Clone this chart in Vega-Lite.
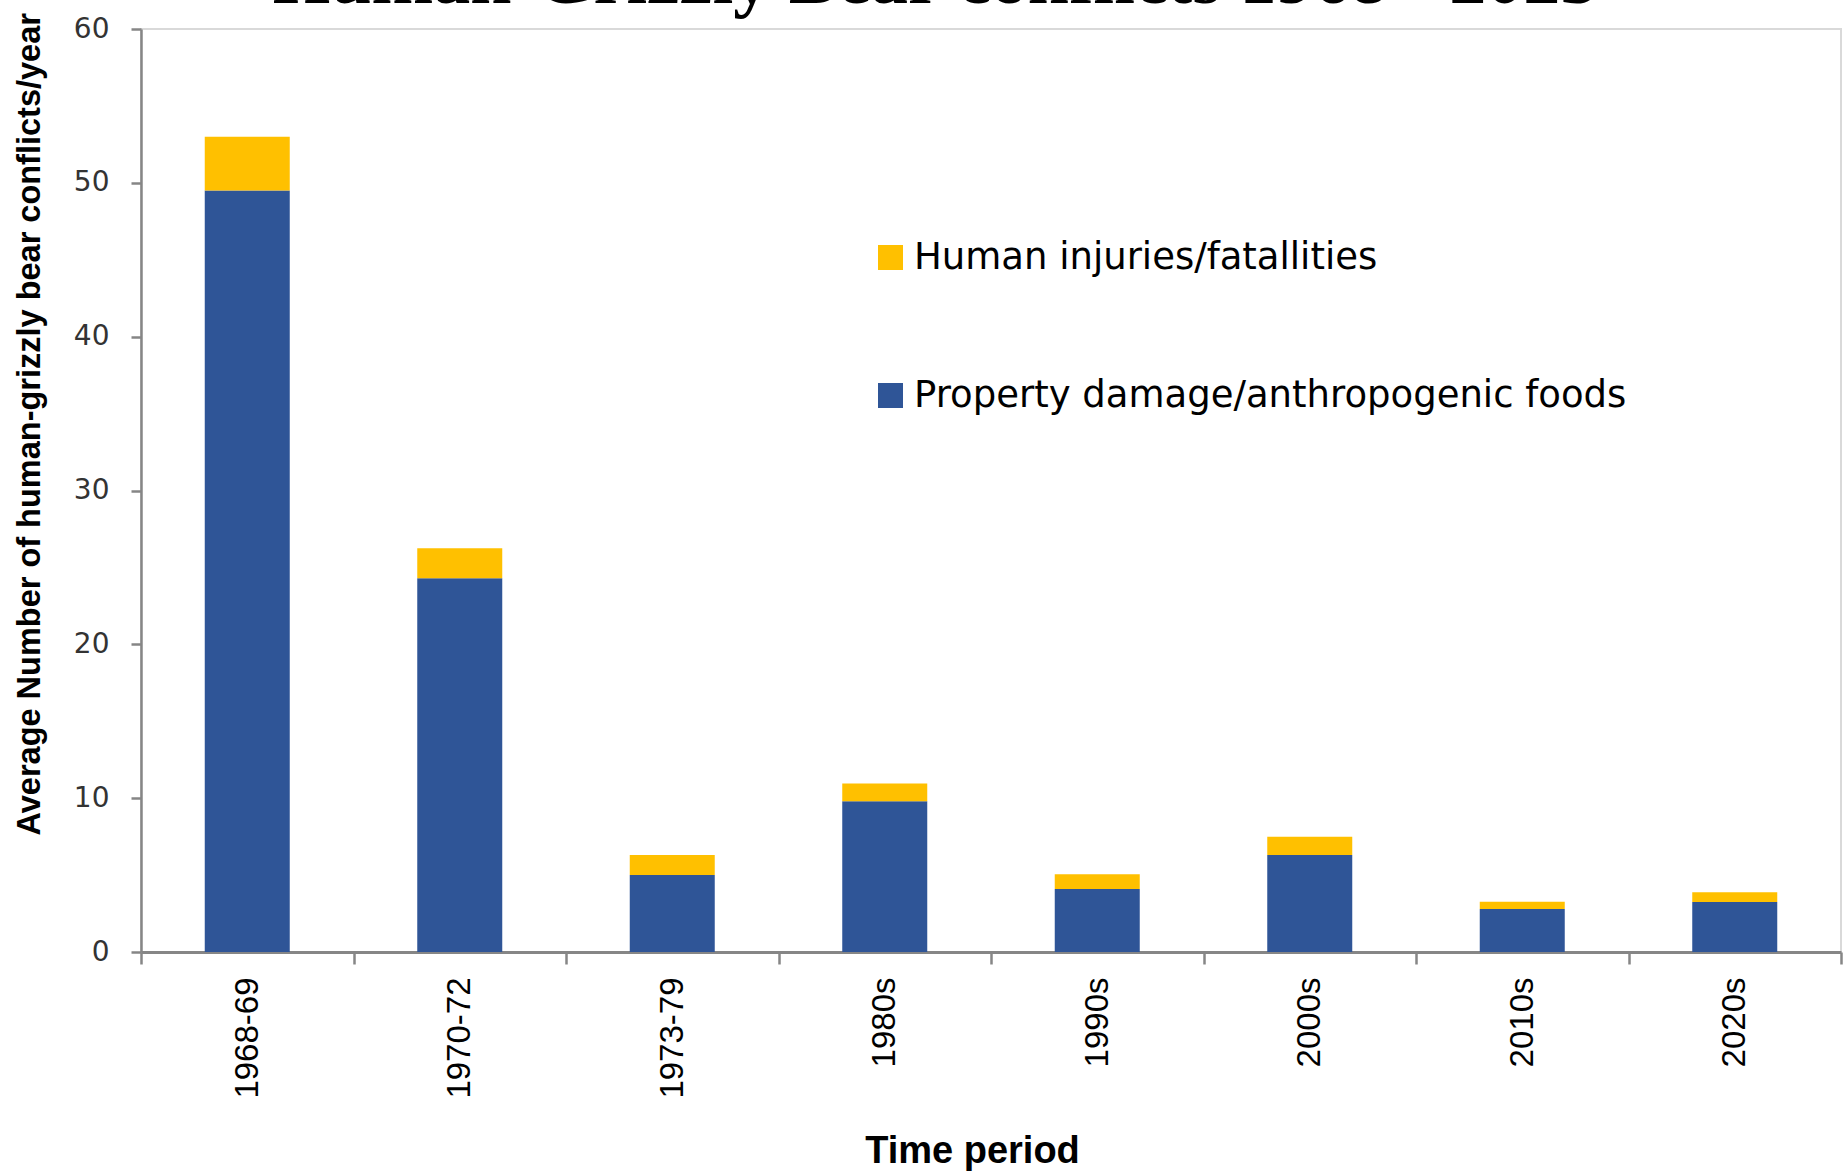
{
  "$schema": "https://vega.github.io/schema/vega-lite/v6.json",
  "autosize": {"type": "none"},
  "padding": {"left": 141, "top": 29, "right": 4, "bottom": 222},
  "width": 1700,
  "height": 923,
  "background": "white",
  "title": {
    "text": "Human-Grizzly Bear conflicts 1968 - 2023",
    "font": "Liberation Serif",
    "fontSize": 74,
    "fontWeight": "bold",
    "color": "black",
    "anchor": "middle",
    "frame": "group",
    "baseline": "alphabetic",
    "offset": -73,
    "dx": -56
  },
  "data": {
    "values": [
      {"period": "1968-69", "type": "Property damage/anthropogenic foods", "value": 49.5},
      {"period": "1968-69", "type": "Human injuries/fatallities", "value": 3.5},
      {"period": "1970-72", "type": "Property damage/anthropogenic foods", "value": 24.3},
      {"period": "1970-72", "type": "Human injuries/fatallities", "value": 1.95},
      {"period": "1973-79", "type": "Property damage/anthropogenic foods", "value": 5.0},
      {"period": "1973-79", "type": "Human injuries/fatallities", "value": 1.3},
      {"period": "1980s", "type": "Property damage/anthropogenic foods", "value": 9.8},
      {"period": "1980s", "type": "Human injuries/fatallities", "value": 1.15},
      {"period": "1990s", "type": "Property damage/anthropogenic foods", "value": 4.1},
      {"period": "1990s", "type": "Human injuries/fatallities", "value": 0.95},
      {"period": "2000s", "type": "Property damage/anthropogenic foods", "value": 6.3},
      {"period": "2000s", "type": "Human injuries/fatallities", "value": 1.2},
      {"period": "2010s", "type": "Property damage/anthropogenic foods", "value": 2.8},
      {"period": "2010s", "type": "Human injuries/fatallities", "value": 0.47},
      {"period": "2020s", "type": "Property damage/anthropogenic foods", "value": 3.25},
      {"period": "2020s", "type": "Human injuries/fatallities", "value": 0.63}
    ]
  },
  "mark": {"type": "bar", "width": {"band": 0.4}},
  "encoding": {
    "x": {
      "field": "period",
      "type": "nominal",
      "sort": null,
      "scale": {"paddingInner": 0, "paddingOuter": 0},
      "axis": {
        "title": "Time period",
        "titleFont": "Liberation Sans",
        "titleFontSize": 38,
        "titleFontWeight": "bold",
        "titleColor": "black",
        "titleX": 831,
        "titleY": 199,
        "titleAlign": "center",
        "titleBaseline": "middle",
        "labelFont": "Liberation Sans",
        "labelFontSize": 33,
        "labelColor": "black",
        "labelAngle": -90,
        "labelPadding": 13,
        "labelLimit": 0,
        "tickBand": "extent",
        "tickColor": "#868686",
        "tickWidth": 2.5,
        "tickSize": 12,
        "domainColor": "#868686",
        "domainWidth": 3,
        "grid": false
      }
    },
    "y": {
      "field": "value",
      "type": "quantitative",
      "stack": "zero",
      "scale": {"domain": [0, 60], "nice": false},
      "axis": {
        "title": "Average Number of human-grizzly  bear conflicts/year",
        "titleFont": "Liberation Sans",
        "titleFontSize": 32.5,
        "titleFontWeight": "bold",
        "titleColor": "black",
        "titleAnchor": "start",
        "titleAlign": "left",
        "titleBaseline": "middle",
        "titleAngle": -90,
        "titleX": -112,
        "titleY": 806,
        "values": [0, 10, 20, 30, 40, 50, 60],
        "labelFont": "DejaVu Sans",
        "labelFontSize": 28,
        "labelColor": "#333333",
        "labelPadding": 22,
        "tickColor": "#868686",
        "tickWidth": 2.5,
        "tickSize": 10,
        "domainColor": "#868686",
        "domainWidth": 2.5,
        "grid": false
      }
    },
    "color": {
      "field": "type",
      "type": "nominal",
      "scale": {
        "domain": ["Human injuries/fatallities", "Property damage/anthropogenic foods"],
        "range": ["#FFC000", "#2F5597"]
      },
      "legend": {
        "orient": "none",
        "legendX": 731,
        "legendY": 210,
        "title": null,
        "symbolType": "square",
        "symbolSize": 625,
        "symbolStrokeWidth": 0,
        "symbolOpacity": 1,
        "labelFont": "DejaVu Sans",
        "labelFontSize": 37,
        "labelColor": "black",
        "labelLimit": 0,
        "labelOffset": 5,
        "rowPadding": 100,
        "padding": 0
      }
    },
    "order": {"field": "type", "sort": "descending"}
  },
  "config": {
    "view": {"stroke": "#d9d9d9", "strokeWidth": 2}
  }
}
